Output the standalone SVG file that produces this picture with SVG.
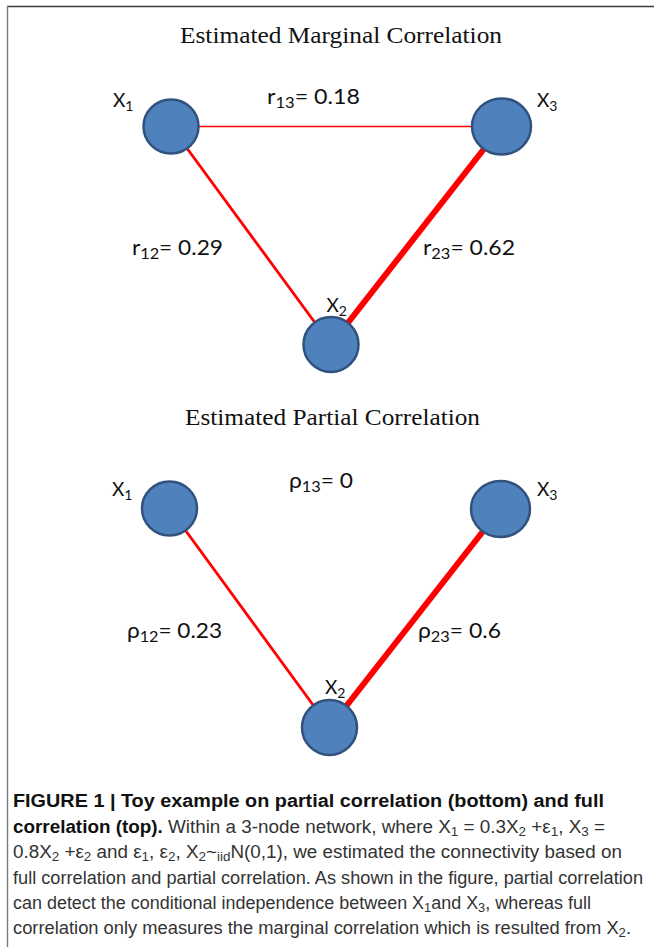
<svg xmlns="http://www.w3.org/2000/svg" width="654" height="947" viewBox="0 0 654 947">
<style>
.title{font-family:"Liberation Serif","Times New Roman",serif;font-size:24px;fill:#111}
.lbl{font-family:Lato,"Open Sans","Liberation Sans",sans-serif;font-size:21px;fill:#111}
.xl{font-family:Lato,"Open Sans","Liberation Sans",sans-serif;font-size:19px;fill:#111}
.sub{font-size:15px}
.xs{font-size:14px}
.node{fill:#4F81BD;stroke:#30527d;stroke-width:2.5}
.edge{stroke:#FF0000;fill:none;stroke-linecap:butt}
.cap{font-family:"Liberation Sans",Arial,Helvetica,sans-serif;font-size:17.5px;fill:#333}
.capb{font-weight:bold;fill:#111}
.cs{font-size:12.5px}
</style>
<rect x="0" y="0" width="654" height="947" fill="#ffffff"/>
<g id="frame">
<line x1="7" y1="6.5" x2="654" y2="6.5" stroke="#3c3c3c" stroke-width="1.4"/>
<line x1="7.5" y1="6" x2="7.5" y2="947" stroke="#7a7a7a" stroke-width="1.4"/>
</g>
<g id="titles">
<text class="title" x="180" y="43" textLength="322" lengthAdjust="spacingAndGlyphs">Estimated Marginal Correlation</text>
<text class="title" x="185" y="425" textLength="295" lengthAdjust="spacingAndGlyphs">Estimated Partial Correlation</text>
</g>
<g id="connectors">
<line class="edge" x1="171" y1="126.5" x2="501.5" y2="126.5" stroke-width="1.6"/>
<line class="edge" x1="171" y1="126.5" x2="331" y2="344.5" stroke-width="2.8"/>
<line class="edge" x1="331" y1="344.5" x2="501.5" y2="126.5" stroke-width="6"/>
<line class="edge" x1="169.5" y1="508.5" x2="329.5" y2="727.5" stroke-width="2.8"/>
<line class="edge" x1="329.5" y1="727.5" x2="500.5" y2="509" stroke-width="6"/>
</g>
<g id="edge-labels">
<text class="lbl" x="267" y="104" textLength="93" lengthAdjust="spacingAndGlyphs">r<tspan class="sub" dy="4">13</tspan><tspan dy="-4">= 0.18</tspan></text>
<text class="lbl" x="132" y="255" textLength="91" lengthAdjust="spacingAndGlyphs">r<tspan class="sub" dy="4">12</tspan><tspan dy="-4">= 0.29</tspan></text>
<text class="lbl" x="423" y="255" textLength="92" lengthAdjust="spacingAndGlyphs">r<tspan class="sub" dy="4">23</tspan><tspan dy="-4">= 0.62</tspan></text>
<text class="lbl" x="289" y="488" textLength="64" lengthAdjust="spacingAndGlyphs">ρ<tspan class="sub" dy="4">13</tspan><tspan dy="-4">= 0</tspan></text>
<text class="lbl" x="127" y="638" textLength="95" lengthAdjust="spacingAndGlyphs">ρ<tspan class="sub" dy="4">12</tspan><tspan dy="-4">= 0.23</tspan></text>
<text class="lbl" x="418" y="638" textLength="83" lengthAdjust="spacingAndGlyphs">ρ<tspan class="sub" dy="4">23</tspan><tspan dy="-4">= 0.6</tspan></text>
</g>
<g id="m-x1">
<ellipse class="node" cx="171" cy="126.5" rx="27.5" ry="27"/>
<text class="xl" x="113" y="107">X<tspan class="xs" dy="4">1</tspan></text>
</g>
<g id="m-x3">
<ellipse class="node" cx="501.5" cy="126.5" rx="29.5" ry="28"/>
<text class="xl" x="537" y="107">X<tspan class="xs" dy="4">3</tspan></text>
</g>
<g id="m-x2">
<ellipse class="node" cx="331" cy="344.5" rx="27.5" ry="27.5"/>
<text class="xl" x="326.5" y="311.5">X<tspan class="xs" dy="4">2</tspan></text>
</g>
<g id="p-x1">
<ellipse class="node" cx="169.5" cy="508.5" rx="27.5" ry="27"/>
<text class="xl" x="112" y="496">X<tspan class="xs" dy="4">1</tspan></text>
</g>
<g id="p-x3">
<ellipse class="node" cx="500.5" cy="509" rx="29.5" ry="28"/>
<text class="xl" x="537" y="496">X<tspan class="xs" dy="4">3</tspan></text>
</g>
<g id="p-x2">
<ellipse class="node" cx="329.5" cy="727.5" rx="27.5" ry="27.5"/>
<text class="xl" x="325" y="694">X<tspan class="xs" dy="4">2</tspan></text>
</g>
<g id="caption">
<text class="cap capb" x="13" y="807" textLength="591" lengthAdjust="spacingAndGlyphs">FIGURE 1 | Toy example on partial correlation (bottom) and full</text>
<text class="cap" x="13" y="832.5" textLength="592" lengthAdjust="spacingAndGlyphs"><tspan class="capb">correlation (top).</tspan> Within a 3-node network, where X<tspan class="cs" dy="3">1</tspan><tspan dy="-3"> = 0.3X</tspan><tspan class="cs" dy="3">2</tspan><tspan dy="-3"> +ε</tspan><tspan class="cs" dy="3">1</tspan><tspan dy="-3">, X</tspan><tspan class="cs" dy="3">3</tspan><tspan dy="-3"> =</tspan></text>
<text class="cap" x="13" y="858" textLength="609" lengthAdjust="spacingAndGlyphs">0.8X<tspan class="cs" dy="3">2</tspan><tspan dy="-3"> +ε</tspan><tspan class="cs" dy="3">2</tspan><tspan dy="-3"> and ε</tspan><tspan class="cs" dy="3">1</tspan><tspan dy="-3">, ε</tspan><tspan class="cs" dy="3">2</tspan><tspan dy="-3">, X</tspan><tspan class="cs" dy="3">2</tspan><tspan dy="-3">~</tspan><tspan class="cs" dy="3">iid</tspan><tspan dy="-3">N(0,1), we estimated the connectivity based on</tspan></text>
<text class="cap" x="13" y="883.5" textLength="630" lengthAdjust="spacingAndGlyphs">full correlation and partial correlation. As shown in the figure, partial correlation</text>
<text class="cap" x="13" y="909" textLength="578" lengthAdjust="spacingAndGlyphs">can detect the conditional independence between X<tspan class="cs" dy="3">1</tspan><tspan dy="-3">and X</tspan><tspan class="cs" dy="3">3</tspan><tspan dy="-3">, whereas full</tspan></text>
<text class="cap" x="13" y="934" textLength="618" lengthAdjust="spacingAndGlyphs">correlation only measures the marginal correlation which is resulted from X<tspan class="cs" dy="3">2</tspan><tspan dy="-3">.</tspan></text>
</g>
</svg>
